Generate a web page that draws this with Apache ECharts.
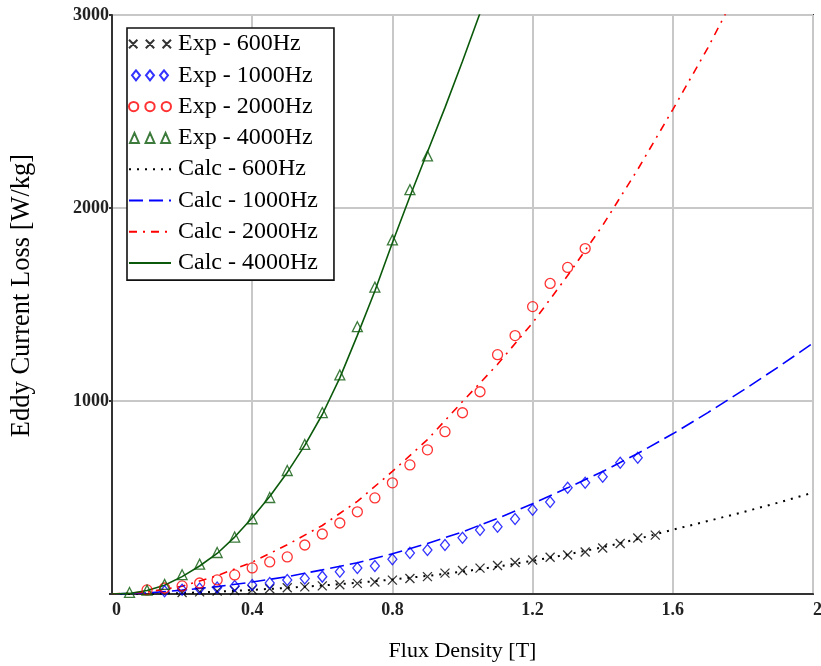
<!DOCTYPE html>
<html>
<head>
<meta charset="utf-8">
<script src="https://cdn.jsdelivr.net/npm/echarts@6/dist/echarts.min.js"></script>
<style>
  html, body { margin: 0; padding: 0; background: #fff; }
  #chart { width: 821px; height: 666px; }
</style>
</head>
<body>
<div id="chart"></div>
<script>
// Measured eddy current loss [W/kg] vs flux density [T]
const exp600Flux = [0.2, 0.25, 0.3, 0.35, 0.4, 0.45, 0.5, 0.55, 0.6, 0.65, 0.7, 0.75, 0.8, 0.85, 0.9, 0.95, 1.0, 1.05, 1.1, 1.15, 1.2, 1.25, 1.3, 1.35, 1.4, 1.45, 1.5, 1.55];
const exp600Loss = [8, 11, 15, 18, 22, 27, 32, 37, 42, 48, 55, 62, 72, 80, 90, 108, 122, 134, 148, 163, 176, 190, 202, 218, 238, 262, 290, 305];

const exp1000Flux = [0.15, 0.2, 0.25, 0.3, 0.35, 0.4, 0.45, 0.5, 0.55, 0.6, 0.65, 0.7, 0.75, 0.8, 0.85, 0.9, 0.95, 1.0, 1.05, 1.1, 1.15, 1.2, 1.25, 1.3, 1.35, 1.4, 1.45, 1.5];
const exp1000Loss = [14, 22, 28, 34, 42, 47, 57, 73, 80, 90, 115, 135, 145, 180, 213, 228, 254, 291, 332, 348, 389, 436, 477, 550, 576, 607, 680, 706];

const exp2000Flux = [0.1, 0.15, 0.2, 0.25, 0.3, 0.35, 0.4, 0.45, 0.5, 0.55, 0.6, 0.65, 0.7, 0.75, 0.8, 0.85, 0.9, 0.95, 1.0, 1.05, 1.1, 1.15, 1.2, 1.25, 1.3, 1.35];
const exp2000Loss = [21, 31, 42, 57, 73, 99, 135, 166, 192, 254, 311, 368, 426, 498, 576, 669, 747, 841, 939, 1048, 1240, 1339, 1489, 1609, 1692, 1790];

const exp4000Flux = [0.05, 0.1, 0.15, 0.2, 0.25, 0.3, 0.35, 0.4, 0.45, 0.5, 0.55, 0.6, 0.65, 0.7, 0.75, 0.8, 0.85, 0.9];
const exp4000Loss = [8, 20, 50, 100, 155, 215, 295, 390, 500, 640, 775, 940, 1135, 1385, 1590, 1835, 2095, 2270];

// Calculated curves
const calcFlux = [0, 0.1, 0.2, 0.3, 0.4, 0.5, 0.6, 0.7, 0.8, 0.9, 1.0, 1.1, 1.2, 1.3, 1.4, 1.5, 1.6, 1.7, 1.8, 1.9, 2.0];
const calc600Loss = [0, 1, 5, 12, 21, 32, 44, 58, 75, 94, 116, 142, 172, 205, 242, 285, 333, 378, 424, 473, 525];
const calc1000Loss = [0, 5, 20, 38, 62, 90, 125, 162, 208, 262, 322, 392, 468, 550, 635, 728, 830, 940, 1055, 1175, 1300];
const calc2000Flux = [0, 0.1, 0.2, 0.3, 0.4, 0.5, 0.6, 0.7, 0.8, 0.9, 1.0, 1.1, 1.2, 1.3, 1.4, 1.5, 1.6, 1.7, 1.8];
const calc2000Loss = [0, 10, 40, 95, 165, 255, 355, 480, 635, 800, 997, 1190, 1405, 1650, 1910, 2200, 2510, 2830, 3180];
const calc4000Flux = [0, 0.05, 0.1, 0.15, 0.2, 0.25, 0.3, 0.35, 0.4, 0.45, 0.5, 0.55, 0.6, 0.65, 0.7, 0.75, 0.8, 0.85, 0.9, 0.95, 1.0, 1.05, 1.1];
const calc4000Loss = [0, 3, 18, 45, 90, 145, 210, 295, 395, 505, 630, 770, 930, 1120, 1340, 1570, 1820, 2060, 2290, 2520, 2760, 3010, 3280];

const xTicks = ['0', '0.4', '0.8', '1.2', '1.6', '2'];
const yTicks = ['', '1000', '2000', '3000'];

const pairs = (xs, ys) => xs.map((x, i) => [x, ys[i]]);

const SERIF = '"Liberation Serif", "Times New Roman", serif';
const GREEN = '#0b5a0b';
const CLEAR = 'rgba(0,0,0,0)';

// Marker shapes
const crossSym = 'path://M0 0L10 10M10 0L0 10';
const crossIcon = 'path://M0 1L8 9M8 1L0 9M16 1L24 9M24 1L16 9M32 1L40 9M40 1L32 9';
const diamondIcon = 'path://M4 0L8 5L4 10L0 5ZM18 0L22 5L18 10L14 5ZM32 0L36 5L32 10L28 5Z';
const circleIcon = 'path://M0 5A4 4 0 1 0 8 5A4 4 0 1 0 0 5ZM14 5A4 4 0 1 0 22 5A4 4 0 1 0 14 5ZM28 5A4 4 0 1 0 36 5A4 4 0 1 0 28 5Z';
const triangleIcon = 'path://M4 0L8 9L0 9ZM18 0L22 9L14 9ZM32 0L36 9L28 9Z';

function expSeries(name, xs, ys, color, symbol, size) {
  return {
    name, type: 'scatter', data: pairs(xs, ys),
    symbol, symbolSize: size,
    itemStyle: { color: CLEAR, borderColor: color, borderWidth: 1.3 },
    z: 3
  };
}
function calcSeries(name, xs, ys, color, type, width) {
  return {
    name, type: 'line', data: pairs(xs, ys),
    showSymbol: false, symbol: 'none', smooth: false,
    lineStyle: { color, type, width },
    itemStyle: { color },
    z: 2
  };
}
// Legend entry for a calculated curve: line sample only, no point marker
const lineEntry = (name) => ({ name, itemStyle: { color: CLEAR, borderColor: CLEAR, borderWidth: 0 } });

const chart = echarts.init(document.getElementById('chart'));
chart.setOption({
  animation: false,
  backgroundColor: '#fff',
  grid: {
    left: 112, right: 8, top: 15, bottom: 72,
    outerBoundsMode: 'none',
    show: true, borderColor: '#333', borderWidth: 2, backgroundColor: '#fff'
  },
  legend: {
    orient: 'vertical',
    left: 127, top: 28,
    itemWidth: 42, itemHeight: 10, itemGap: 7.3,
    padding: [4, 16, 5, 1],
    backgroundColor: '#fff',
    borderColor: '#111', borderWidth: 1.6,
    textStyle: { fontFamily: SERIF, fontSize: 24, color: '#000', lineHeight: 24, padding: [0, 0, 0, 2] },
    data: [
      { name: 'Exp - 600Hz', icon: crossIcon },
      { name: 'Exp - 1000Hz', icon: diamondIcon },
      { name: 'Exp - 2000Hz', icon: circleIcon },
      { name: 'Exp - 4000Hz', icon: triangleIcon },
      lineEntry('Calc - 600Hz'),
      lineEntry('Calc - 1000Hz'),
      lineEntry('Calc - 2000Hz'),
      lineEntry('Calc - 4000Hz')
    ]
  },
  xAxis: {
    type: 'value', min: 0, max: 2, interval: 0.4,
    name: 'Flux Density [T]', nameLocation: 'middle', nameGap: 46,
    nameTextStyle: { fontFamily: SERIF, fontSize: 22, color: '#000' },
    axisLine: { show: true, lineStyle: { color: '#333', width: 2 } },
    axisTick: { show: false },
    splitLine: { show: true, lineStyle: { color: '#c8c8c8', width: 2 } },
    axisLabel: {
      margin: 7, fontFamily: SERIF, fontSize: 18, fontWeight: 'bold', color: '#222',
      alignMinLabel: 'left', alignMaxLabel: 'left',
      formatter: (v) => xTicks[Math.round(v / 0.4)]
    }
  },
  yAxis: {
    type: 'value', min: 0, max: 3000, interval: 1000,
    name: 'Eddy Current Loss [W/kg]', nameLocation: 'middle', nameGap: 76,
    nameTextStyle: { fontFamily: SERIF, fontSize: 26.5, color: '#000', padding: [0, 0, 0, 18] },
    axisLine: { show: true, lineStyle: { color: '#333', width: 2 } },
    axisTick: { show: true, length: 3, lineStyle: { color: '#333', width: 2 } },
    splitLine: { show: true, lineStyle: { color: '#c8c8c8', width: 2 } },
    axisLabel: {
      margin: 3, fontFamily: SERIF, fontSize: 18, fontWeight: 'bold', color: '#222',
      formatter: (v) => yTicks[Math.round(v / 1000)]
    }
  },
  series: [
    expSeries('Exp - 600Hz', exp600Flux, exp600Loss, '#000', crossSym, 9),
    expSeries('Exp - 1000Hz', exp1000Flux, exp1000Loss, '#0000ff', 'path://M5 0L10 6L5 12L0 6Z', [9, 11]),
    expSeries('Exp - 2000Hz', exp2000Flux, exp2000Loss, '#ff0000', 'circle', 10),
    expSeries('Exp - 4000Hz', exp4000Flux, exp4000Loss, GREEN, 'triangle', 10),
    calcSeries('Calc - 600Hz', calcFlux, calc600Loss, '#000', [2, 6], 2),
    calcSeries('Calc - 1000Hz', calcFlux, calc1000Loss, '#0000ff', [14, 6], 1.6),
    calcSeries('Calc - 2000Hz', calc2000Flux, calc2000Loss, '#ff0000', [8, 6, 2, 6], 1.6),
    calcSeries('Calc - 4000Hz', calc4000Flux, calc4000Loss, GREEN, 'solid', 1.6)
  ]
});
</script>
</body>
</html>
